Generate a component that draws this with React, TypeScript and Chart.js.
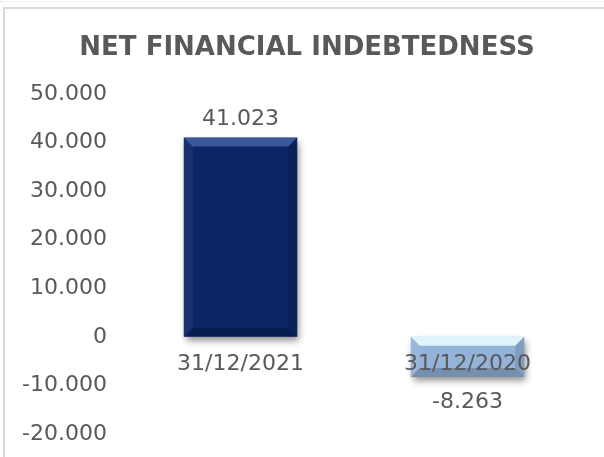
import React, { useEffect, useRef } from "react";
import { Chart, registerables } from "chart.js";

Chart.register(...registerables);

const TITLE = "NET FINANCIAL INDEBTEDNESS";
const categories = ["31/12/2021", "31/12/2020"];
const values = [41023, -8263];
const valueLabels = ["41.023", "-8.263"];
const barColors = ["#0b2566", "#93b3da"];
const barHighlights = ["rgba(110,140,210,0.5)", "rgba(235,255,255,0.85)"];
const yTicks = [50000, 40000, 30000, 20000, 10000, 0, -10000, -20000];

const FONT = "'DejaVu Sans', Verdana, sans-serif";
const TEXT = "#595959";

function fmt(v: number): string {
  if (v === 0) return "0";
  const s = Math.abs(v).toString();
  const withSep = s.replace(/\B(?=(\d{3})+(?!\d))/g, ".");
  return (v < 0 ? "-" : "") + withSep;
}

const shadowPlugin = {
  id: "barShadow",
  beforeDatasetsDraw(chart: any) {
    const ctx = chart.ctx;
    ctx.save();
    ctx.shadowColor = "rgba(0,0,0,0.45)";
    ctx.shadowBlur = 7;
    ctx.shadowOffsetX = 2;
    ctx.shadowOffsetY = 4;
  },
  afterDatasetsDraw(chart: any) {
    const ctx = chart.ctx;
    ctx.restore();
    const meta = chart.getDatasetMeta(0);
    meta.data.forEach((bar: any, i: number) => {
      const l = bar.x - bar.width / 2;
      const r = bar.x + bar.width / 2;
      const t = Math.min(bar.y, bar.base);
      const b = Math.max(bar.y, bar.base);
      const bv = Math.min(9, (b - t) / 3);
      ctx.save();
      ctx.fillStyle = barHighlights[i];
      ctx.beginPath();
      ctx.moveTo(l, t);
      ctx.lineTo(r, t);
      ctx.lineTo(r - bv, t + bv);
      ctx.lineTo(l + bv, t + bv);
      ctx.closePath();
      ctx.fill();
      ctx.fillStyle = "rgba(255,255,255,0.06)";
      ctx.beginPath();
      ctx.moveTo(l, t);
      ctx.lineTo(l + bv, t + bv);
      ctx.lineTo(l + bv, b - bv);
      ctx.lineTo(l, b);
      ctx.closePath();
      ctx.fill();
      ctx.fillStyle = "rgba(0,0,0,0.12)";
      ctx.beginPath();
      ctx.moveTo(r, t);
      ctx.lineTo(r - bv, t + bv);
      ctx.lineTo(r - bv, b - bv);
      ctx.lineTo(r, b);
      ctx.closePath();
      ctx.fill();
      ctx.fillStyle = "rgba(0,0,0,0.2)";
      ctx.beginPath();
      ctx.moveTo(l, b);
      ctx.lineTo(l + bv, b - bv);
      ctx.lineTo(r - bv, b - bv);
      ctx.lineTo(r, b);
      ctx.closePath();
      ctx.fill();
      ctx.restore();
    });
  },
};

const labelsPlugin = {
  id: "customLabels",
  afterDraw(chart: any) {
    const ctx = chart.ctx;
    const xs = chart.scales.x;
    const ys = chart.scales.y;
    const zero = ys.getPixelForValue(0);
    ctx.save();
    ctx.fillStyle = TEXT;
    ctx.textAlign = "center";
    ctx.textBaseline = "middle";
    ctx.font = `22px ${FONT}`;
    categories.forEach((c, i) => {
      ctx.fillText(c, xs.getPixelForValue(i), zero + 27);
    });
    const meta = chart.getDatasetMeta(0);
    meta.data.forEach((bar: any, i: number) => {
      const v = values[i];
      const y = v >= 0 ? bar.y - 18 : bar.y + 25;
      ctx.fillText(valueLabels[i], bar.x, y);
    });
    ctx.font = `bold 26px ${FONT}`;
    ctx.fillText(TITLE, 307, 48);
    ctx.restore();
  },
};

export default function App() {
  const ref = useRef<HTMLCanvasElement | null>(null);
  useEffect(() => {
    if (!ref.current) return;
    const chart = new Chart(ref.current, {
      type: "bar",
      data: {
        labels: categories,
        datasets: [
          {
            data: values,
            backgroundColor: barColors,
            borderWidth: 0,
            barPercentage: 0.5,
            categoryPercentage: 1,
          },
        ],
      },
      options: {
        animation: false,
        responsive: false,
        maintainAspectRatio: false,
        layout: { padding: { top: 94, bottom: 23, left: 0, right: 23 } },
        plugins: {
          legend: { display: false },
          title: { display: false },
          tooltip: { enabled: false },
        },
        scales: {
          x: { display: false },
          y: {
            min: -20000,
            max: 50000,
            afterFit: (s: any) => {
              s.width = 127;
              s.paddingTop = 0;
              s.paddingBottom = 0;
            },
            afterBuildTicks: (s: any) => {
              s.ticks = yTicks.map((v) => ({ value: v }));
            },
            grid: { display: false, drawTicks: false },
            border: { display: false },
            ticks: {
              padding: 20,
              color: TEXT,
              font: { family: FONT, size: 22 },
              callback: (v: any) => fmt(Number(v)),
            },
          },
        },
      },
      plugins: [shadowPlugin, labelsPlugin],
    });
    return () => chart.destroy();
  }, []);
  return (
    <div style={{ position: "absolute", left: 0, top: 0, width: 604, height: 457, overflow: "hidden", background: "#fff" }}>
      <div style={{ position: "absolute", left: 0, top: 1, width: 604, height: 1, background: "#f0f0f0" }} />
      <div
        style={{
          position: "absolute",
          left: 3,
          top: 7,
          width: 640,
          height: 500,
          borderLeft: "2px solid #d9d9d9",
          borderTop: "2px solid #d9d9d9",
        }}
      />
      <canvas ref={ref} width={604} height={457} style={{ position: "absolute", left: 0, top: 0, width: 604, height: 457 }} />
    </div>
  );
}
